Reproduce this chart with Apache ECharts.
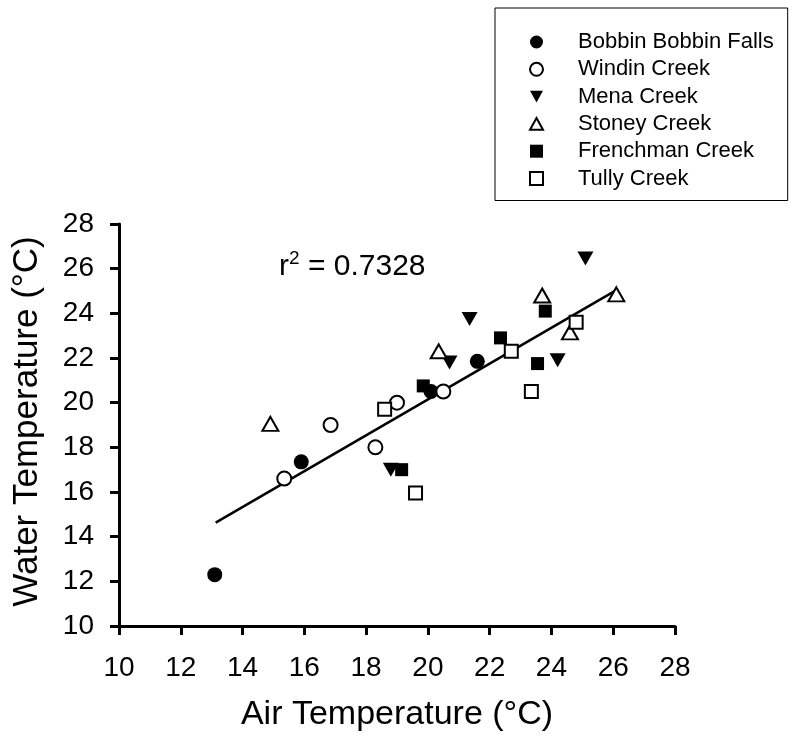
<!DOCTYPE html>
<html>
<head>
<meta charset="utf-8">
<script src="https://cdn.jsdelivr.net/npm/echarts@6/dist/echarts.min.js"></script>
<style>
  html, body { margin: 0; padding: 0; background: #fff; }
  #chart { width: 792px; height: 738px; }
</style>
</head>
<body>
<div id="chart"></div>
<script>
// ---- data (air temperature °C, water temperature °C) ----
const bobbinBobbinFalls = [[13.1, 12.3], [15.9, 17.35], [20.1, 20.5], [21.6, 21.85]];
const windinCreek = [[15.35, 16.6], [16.85, 19.0], [18.3, 18.0], [19.0, 20.0], [20.5, 20.5]];
const menaCreek = [[18.8, 17.0], [20.7, 21.8], [21.35, 23.75], [24.2, 21.9], [25.1, 26.45]];
const stoneyCreek = [[14.9, 19.05], [20.35, 22.3], [23.7, 24.8], [24.6, 23.15], [26.1, 24.85]];
const frenchmanCreek = [[19.15, 17.0], [19.85, 20.75], [22.35, 22.9], [23.8, 24.1], [23.55, 21.75]];
const tullyCreek = [[18.6, 19.7], [19.6, 15.95], [22.7, 22.3], [23.35, 20.5], [24.8, 23.6]];
const fitLine = [[13.13, 14.63], [26.1, 25.04]];
const seriesNames = ['Bobbin Bobbin Falls', 'Windin Creek', 'Mena Creek', 'Stoney Creek', 'Frenchman Creek', 'Tully Creek'];
const xTicks = { min: 10, max: 28, interval: 2 };
const yTicks = { min: 10, max: 28, interval: 2 };
const rSquaredText = '0.7328';
const xTitle = 'Air Temperature (°C)';
const yTitle = 'Water Temperature (°C)';

const FONT = '"Liberation Sans", Arial, sans-serif';
const triDown = 'path://M0,0 L10,0 L5,9 Z';
const triUp = 'path://M5,0 L10,9 L0,9 Z';
const filled = { color: '#000', borderColor: '#000', borderWidth: 0, opacity: 1 };
const open = { color: '#fff', borderColor: '#000', borderWidth: 2, opacity: 1 };

function scatter(name, data, symbol, size, style) {
  return {
    type: 'scatter', name, data, symbol, symbolSize: size,
    itemStyle: style, z: 3,
    emphasis: { disabled: true }
  };
}

const chart = echarts.init(document.getElementById('chart'), null, { renderer: 'canvas' });
chart.setOption({
  animation: false,
  backgroundColor: '#fff',
  grid: { left: 119, right: 117, top: 224, bottom: 112, containLabel: false },
  xAxis: {
    type: 'value', min: xTicks.min, max: xTicks.max, interval: xTicks.interval,
    name: xTitle, nameLocation: 'middle', nameGap: 72,
    nameTextStyle: { fontFamily: FONT, fontSize: 34, color: '#000' },
    axisLine: { lineStyle: { color: '#000', width: 3 } },
    axisTick: { show: true, length: 9, inside: false, lineStyle: { color: '#000', width: 3 } },
    axisLabel: { fontFamily: FONT, fontSize: 28, color: '#000', margin: 28 },
    splitLine: { show: false }
  },
  yAxis: {
    type: 'value', min: yTicks.min, max: yTicks.max, interval: yTicks.interval,
    name: yTitle, nameLocation: 'middle', nameGap: 74,
    nameTextStyle: { fontFamily: FONT, fontSize: 35, color: '#000', padding: [0, 0, 0, 7] },
    axisLine: { lineStyle: { color: '#000', width: 3 } },
    axisTick: { show: true, length: 9, inside: false, lineStyle: { color: '#000', width: 3 } },
    axisLabel: { fontFamily: FONT, fontSize: 28, color: '#000', margin: 25 },
    splitLine: { show: false }
  },
  legend: {
    data: seriesNames,
    orient: 'vertical',
    left: 495, top: 8,
    padding: [23, 14, 11, 34],
    itemWidth: 13, itemHeight: 13,
    itemGap: 5.3,
    borderColor: '#000', borderWidth: 1,
    textStyle: { fontFamily: FONT, fontSize: 22, color: '#000', lineHeight: 22, padding: [0, 0, 0, 30] },
    selectedMode: false
  },
  graphic: [{
    type: 'text', left: 279, top: 249,
    style: {
      text: 'r{sup|2} = ' + rSquaredText,
      fontFamily: FONT, fontSize: 30, lineHeight: 36, fill: '#000',
      rich: { sup: { fontFamily: FONT, fontSize: 19, lineHeight: 19, verticalAlign: 'top' } }
    }
  }],
  series: [
    scatter(seriesNames[0], bobbinBobbinFalls, 'circle', 15, filled),
    scatter(seriesNames[1], windinCreek, 'circle', 14, open),
    scatter(seriesNames[2], menaCreek, triDown, [16, 14], filled),
    scatter(seriesNames[3], stoneyCreek, triUp, [16, 14], open),
    scatter(seriesNames[4], frenchmanCreek, 'rect', 13, filled),
    scatter(seriesNames[5], tullyCreek, 'rect', 13, open),
    {
      type: 'line', name: 'fit', data: fitLine, showSymbol: false, symbol: 'none',
      lineStyle: { color: '#000', width: 2.5 }, z: 2, silent: true
    }
  ]
});
</script>
</body>
</html>
